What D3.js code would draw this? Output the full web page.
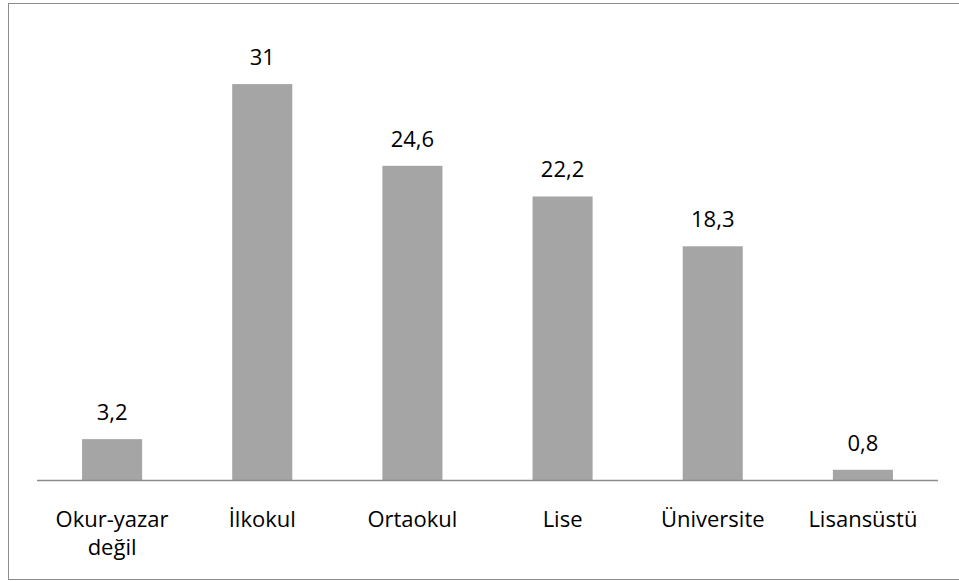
<!DOCTYPE html>
<html>
<head>
<meta charset="utf-8">
<script src="https://cdn.jsdelivr.net/npm/d3@7"></script>
<style>
  body { margin: 0; background: #fff; overflow: hidden; }
  text { font-family: "Open Sans", sans-serif; fill: #000; }
</style>
</head>
<body>
<svg id="canvas" width="959" height="581"></svg>
<script>
let categories = ["Okur-yazar değil", "İlkokul", "Ortaokul", "Lise", "Üniversite", "Lisansüstü"];
let values = [3.2, 31, 24.6, 22.2, 18.3, 0.8];
let valueLabels = ["3,2", "31", "24,6", "22,2", "18,3", "0,8"];

let svg = d3.select("#canvas");

// chart frame (right edge falls outside the picture)
svg.append("rect")
  .attr("x", 8.5).attr("y", 3.5)
  .attr("width", 960).attr("height", 576)
  .attr("fill", "none")
  .attr("stroke", "#8c8c8c")
  .attr("stroke-width", 1);

let x = d3.scaleBand()
  .domain(categories)
  .range([37, 938])
  .paddingInner(0.6)
  .paddingOuter(0.3);

let y = d3.scaleLinear()
  .domain([0, 35])
  .range([480, 33]);

svg.selectAll(".bar")
  .data(values)
  .enter()
  .append("rect")
  .attr("class", "bar")
  .attr("x", (d, i) => x(categories[i]))
  .attr("y", (d) => y(d))
  .attr("width", x.bandwidth())
  .attr("height", (d) => y(0) - y(d))
  .attr("fill", "#a5a5a5");

svg.selectAll(".value")
  .data(values)
  .enter()
  .append("text")
  .attr("class", "value")
  .attr("x", (d, i) => x(categories[i]) + x.bandwidth() / 2)
  .attr("y", (d) => y(d) - 19)
  .attr("text-anchor", "middle")
  .attr("font-size", 22)
  .text((d, i) => valueLabels[i]);

// baseline
svg.append("line")
  .attr("x1", 37).attr("x2", 938)
  .attr("y1", y(0) + 0.5).attr("y2", y(0) + 0.5)
  .attr("stroke", "#8c8c8c")
  .attr("stroke-width", 1.5);

// category labels, split onto two lines where long
let catLabels = svg.selectAll(".cat")
  .data(categories)
  .enter()
  .append("text")
  .attr("class", "cat")
  .attr("text-anchor", "middle")
  .attr("font-size", 22)
  .attr("x", (d) => x(d) + x.bandwidth() / 2)
  .attr("y", 527);

catLabels.each(function (d) {
  let words = d === "Okur-yazar değil" ? ["Okur-yazar", "değil"] : [d];
  let t = d3.select(this);
  words.forEach((w, i) => {
    t.append("tspan")
      .attr("x", x(d) + x.bandwidth() / 2)
      .attr("dy", i === 0 ? 0 : 28)
      .text(w);
  });
});
</script>
</body>
</html>
